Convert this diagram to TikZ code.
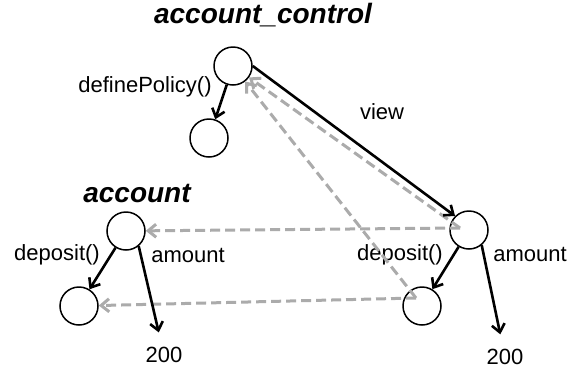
\documentclass[tikz,border=0pt]{standalone}
\usepackage{fontspec}
\setmainfont{Liberation Sans}
\usetikzlibrary{arrows.meta,calc}
\begin{document}
\begin{tikzpicture}[x=1pt, y=-1pt,
    obj/.style={circle, draw, line width=1.5pt, minimum size=38pt, inner sep=0pt},
    lbl/.style={font=\fontsize{22}{26}\selectfont, inner sep=0pt},
    heading/.style={font=\fontsize{28}{32}\selectfont\bfseries\itshape, inner sep=0pt},
    arrow/.style={-{Straight Barb[length=8pt,width=13pt]}, line width=2.6pt},
    flow/.style={-{Straight Barb[length=8pt,width=13pt]}, line width=3pt, color=black!33, dash pattern=on 10pt off 5pt}
]
    \useasboundingbox (0,0) rectangle (577,368);

    % Top: account_control object
    \node[heading] (ctrltitle) at (263,15) {account\_control};
    \node[obj] (ctrl) at (233,66) {};
    \node[obj] (policy) at (209,138) {};
    \node[lbl] (lpolicy) at (145,87) {definePolicy()};

    % Left: account object
    \node[heading] (accttitle) at (137,193) {account};
    \node[obj] (acct) at (126,231) {};
    \node[obj] (acctdep) at (79,306) {};
    \node[lbl] (ldepl) at (57,255) {deposit()};
    \node[lbl] (lamtl) at (188,255) {amount};
    \node[lbl] (vall) at (164,355) {200};

    % Right: view object
    \node[obj] (view) at (469,230) {};
    \node[obj] (viewdep) at (422,306) {};
    \node[lbl] (lview) at (382,112) {view};
    \node[lbl] (ldepr) at (400,255) {deposit()};
    \node[lbl] (lamtr) at (530,254) {amount};
    \node[lbl] (valr) at (505,357) {200};

    % Gray dashed back references
    \coordinate (viewin) at ($(view)+(-9,-2)$);
    \coordinate (viewdepin) at ($(viewdep)+(-6,-8)$);
    \draw[flow] (viewin) -- (ctrl);
    \draw[flow] (viewin) -- (acct);
    \draw[flow] (viewdepin) -- (ctrl);
    \draw[flow] (viewdepin) -- (acctdep);

    % Black arrows
    \draw[arrow] (ctrl) -- (policy);
    \draw[arrow] (ctrl.east) -- (view.135);
    \draw[arrow] (acct) -- (acctdep);
    \draw[arrow, shorten >=15pt] (acct.-50) -- (vall);
    \draw[arrow] (view) -- (viewdep);
    \draw[arrow, shorten >=15pt] (view.-50) -- (valr);
\end{tikzpicture}
\end{document}
